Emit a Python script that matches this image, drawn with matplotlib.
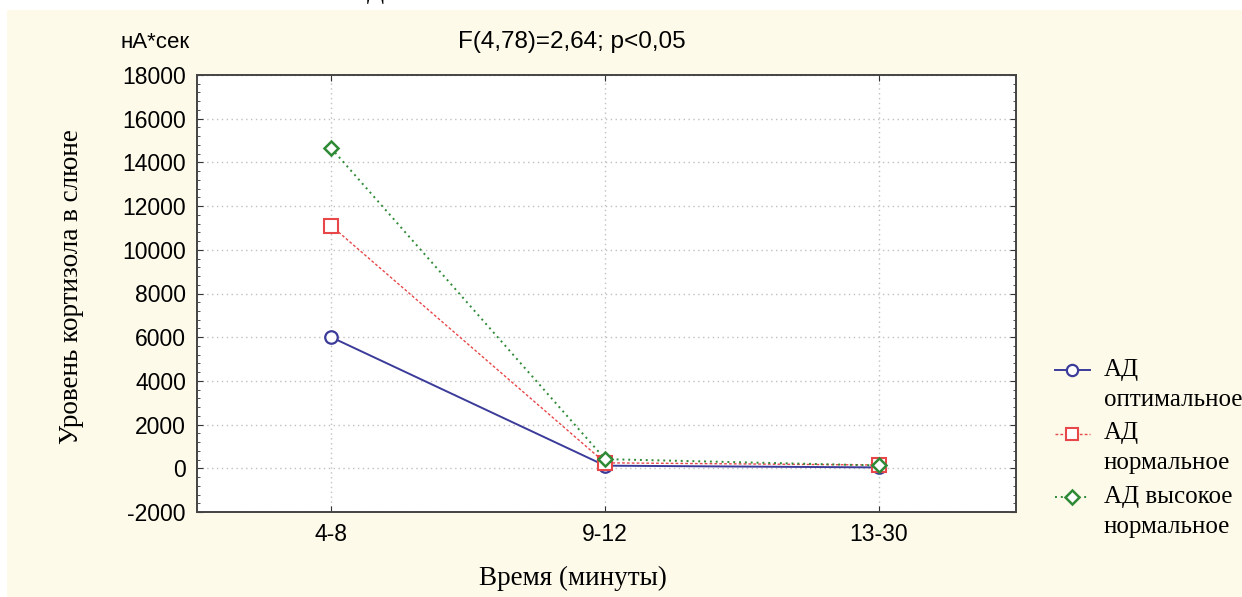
import matplotlib.pyplot as plt
from matplotlib.patches import Rectangle
from matplotlib.lines import Line2D
from matplotlib.ticker import MultipleLocator

plt.rcParams["axes.unicode_minus"] = False

# --- data ----------------------------------------------------------------
periods = ["4-8", "9-12", "13-30"]
optimal = [6000, 120, 40]
normal = [11100, 250, 150]
high_normal = [14650, 420, 130]

labels = [["АД", "оптимальное"], ["АД", "нормальное"], ["АД высокое", "нормальное"]]

CREAM = "#fefae9"
SERIF = ["Liberation Serif", "DejaVu Serif"]
SANS = ["Liberation Sans", "DejaVu Sans"]
W, H = 1242, 597

fig = plt.figure(figsize=(W / 100, H / 100), dpi=100)
fig.patch.set_facecolor("white")
fig.add_artist(Rectangle((7 / W, 0), 1, 1 - 10 / H, transform=fig.transFigure,
                         facecolor=CREAM, edgecolor="none", zorder=-10))
# only the feet of a heading above the panel are visible in the source
fig.text(375 / W, 1 + 1 / H, "Д", family=SERIF, fontsize=18, ha="center",
         va="baseline")

ax = fig.add_axes([197 / W, 1 - 512 / H, (1016 - 197) / W, (512 - 75) / H])
ax.set_facecolor("white")

x = range(len(periods))
styles = [
    dict(color="#3b3b9a", lw=1.4, ls="-", marker="o", ms=9, mew=1.6),
    dict(color="#e8474a", lw=1.0, ls=(0, (2, 1.5)), marker="s", ms=10, mew=1.5),
    dict(color="#2f8a36", lw=1.4, ls=(0, (1, 2)), marker="D", ms=7.5, mew=1.8),
]
for i, (series, st) in enumerate(zip([optimal, normal, high_normal], styles)):
    ax.plot(x, series, mfc="white", mec=st["color"], zorder=3 + i, **st)

ax.set_xlim(-0.49, 2.5)
ax.set_ylim(-2000, 18000)
ax.set_xticks(list(x))
ax.set_xticklabels(periods)
ax.yaxis.set_major_locator(MultipleLocator(2000))
ax.yaxis.set_minor_locator(MultipleLocator(400))
ax.grid(True, which="major", ls=(0, (1, 2.5)), color="#c0c0c0", lw=1.0)
ax.tick_params(which="both", direction="in", top=True, right=True, color="#333333")
ax.tick_params(which="major", length=4, labelsize=16.5, pad=8)
ax.tick_params(which="minor", length=2.5)
ax.tick_params(axis="x", which="minor", length=0)
for lab in ax.get_xticklabels() + ax.get_yticklabels():
    lab.set_family(SANS)
for sp in ax.spines.values():
    sp.set_color("#444444")
    sp.set_linewidth(1.4)

fig.text(72 / W, 1 - 287 / H, "Уровень кортизола в слюне", family=SERIF, fontsize=19.5,
         rotation=90, ha="center", va="center")
fig.text(573 / W, 1 - 578 / H, "Время (минуты)", family=SERIF, fontsize=19.5,
         ha="center", va="center")

fig.text(155 / W, 1 - 42 / H, "нА*сек", family=SANS, fontsize=16,
         ha="center", va="center")
fig.text(572 / W, 1 - 42 / H, "F(4,78)=2,64; p<0,05", family=SANS, fontsize=17.5,
         ha="center", va="center")

# legend drawn by hand: marker sits on the first text line of each entry
for k, (lab, st) in enumerate(zip(labels, styles)):
    y0 = 1 - (370 + k * 63.5) / H
    fig.add_artist(Line2D([1055 / W, 1090 / W], [y0, y0], transform=fig.transFigure,
                          color=st["color"], lw=st["lw"], ls=st["ls"]))
    fig.add_artist(Line2D([1072 / W], [y0], transform=fig.transFigure,
                          marker=st["marker"], ms=st["ms"] * 0.9, mew=st["mew"],
                          mfc="white", mec=st["color"], ls="none"))
    for j, line in enumerate(lab):
        fig.text(1104 / W, y0 - j * 30 / H, line, family=SERIF, fontsize=18,
                 ha="left", va="center")

fig.savefig("out.png", dpi=100, facecolor=fig.get_facecolor())
